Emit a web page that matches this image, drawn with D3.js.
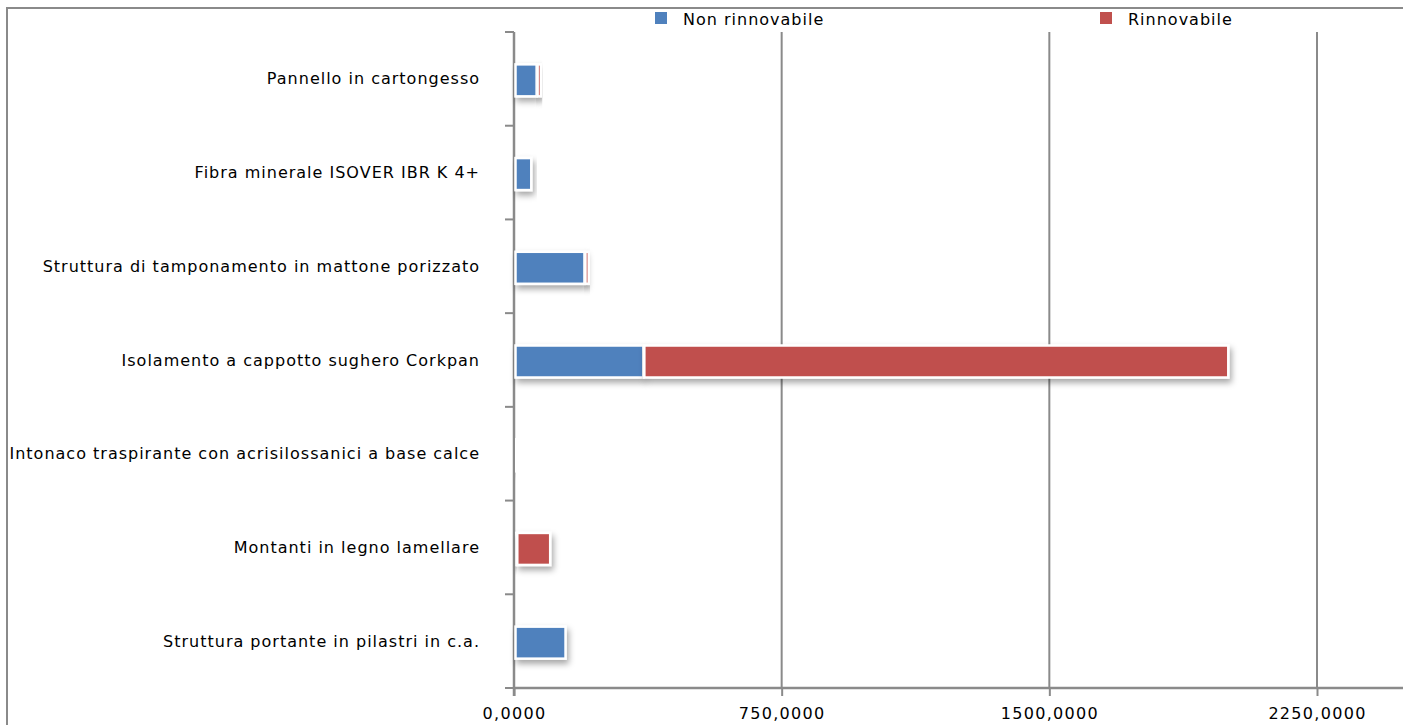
<!DOCTYPE html>
<html><head><meta charset="utf-8">
<script src="https://cdn.jsdelivr.net/npm/d3@7"></script>
<style>body{margin:0;background:#fff}svg{display:block}</style>
</head><body>
<svg id="c" width="1409" height="725"></svg>
<script>
const categories = ["Pannello in cartongesso","Fibra minerale ISOVER IBR K 4+","Struttura di tamponamento in mattone porizzato","Isolamento a cappotto sughero Corkpan","Intonaco traspirante con acrisilossanici a base calce","Montanti in legno lamellare","Struttura portante in pilastri in c.a."];
const nonRinnovabile = [62, 47, 196, 361, 3, 5, 143];
const rinnovabile = [12, 0, 12, 1639, 0, 95, 0];
const seriesNames = ["Non rinnovabile","Rinnovabile"];
const tickValues = [0, 750, 1500, 2250];
const tickLabels = ["0,0000","750,0000","1500,0000","2250,0000"];
const colors = ["#4F81BD","#C0504D"];

const svg = d3.select("#c");
const font = "DejaVu Sans";
const defs = svg.append("defs");
const f = defs.append("filter").attr("id","sh").attr("x","-20%").attr("y","-30%").attr("width","150%").attr("height","190%");
f.append("feDropShadow").attr("dx",2).attr("dy",4).attr("stdDeviation",3).attr("flood-color","#000").attr("flood-opacity",0.35);

// frame
svg.append("path").attr("d","M7,725 V8 H1403").attr("fill","none").attr("stroke","#8a8a8a").attr("stroke-width",2);

const x = d3.scaleLinear().domain([0,2250]).range([514,1317]);
const yb = d3.scaleBand().domain(categories).range([32,688]);
const right = 1403;

// gridlines
svg.append("g").selectAll("line").data(tickValues.slice(1)).join("line")
  .attr("x1",d=>x(d)).attr("x2",d=>x(d)).attr("y1",32).attr("y2",688)
  .attr("stroke","#8a8a8a").attr("stroke-width",2);

// bottom axis
const xa = svg.append("g").attr("transform","translate(0,688)")
  .call(d3.axisBottom(x).tickValues(tickValues).tickFormat((d,i)=>tickLabels[i]).tickSize(8).tickPadding(12));
xa.select(".domain").remove();
xa.selectAll(".tick line").attr("stroke","#8a8a8a").attr("stroke-width",2);
xa.selectAll(".tick text").attr("font-family",font).attr("font-size",16).attr("letter-spacing","1.3px").attr("fill","#000");
svg.append("line").attr("x1",x(0)-1).attr("x2",right).attr("y1",688).attr("y2",688).attr("stroke","#8a8a8a").attr("stroke-width",2.5);

// left axis
const boundaries = categories.map(c=>yb(c)).concat([688]);
svg.append("g").selectAll("line").data(boundaries).join("line")
  .attr("x1",505).attr("x2",x(0)).attr("y1",d=>d).attr("y2",d=>d)
  .attr("stroke","#8a8a8a").attr("stroke-width",2);
svg.append("line").attr("x1",x(0)).attr("x2",x(0)).attr("y1",32).attr("y2",696).attr("stroke","#8a8a8a").attr("stroke-width",2.5);

// category labels
svg.append("g").selectAll("text").data(categories).join("text")
  .attr("x",480).attr("y",d=>yb(d)+yb.bandwidth()/2).attr("dy","0.35em")
  .attr("text-anchor","end").attr("font-family",font).attr("font-size",16).attr("letter-spacing","1px").attr("fill","#000")
  .text(d=>d);

// bars
const stacks = categories.map((c,i)=>{
  const a = nonRinnovabile[i], b = rinnovabile[i];
  return [{c, s:0, x0:0, x1:a},{c, s:1, x0:a, x1:a+b}];
}).flat().filter(d=>d.x1>d.x0);
const bh = 32;
svg.append("g").selectAll("rect").data(stacks).join("rect")
  .attr("x",d=>x(d.x0)+1.5).attr("width",d=>Math.max(0,x(d.x1)-x(d.x0)-1))
  .attr("y",d=>yb(d.c)+yb.bandwidth()/2-bh/2+1.5).attr("height",bh)
  .attr("fill",d=>colors[d.s]).attr("stroke","#fff").attr("stroke-width",2.5)
  .attr("filter","url(#sh)");

// legend
const lg = svg.append("g");
const lx = [655, 1100];
seriesNames.forEach((n,i)=>{
  lg.append("rect").attr("x",lx[i]).attr("y",12).attr("width",12).attr("height",12).attr("fill",colors[i]);
  lg.append("text").attr("x",lx[i]+28).attr("y",24.5).attr("font-family",font).attr("font-size",16).attr("letter-spacing","1px").attr("fill","#000").text(n);
});
</script>
</body></html>
